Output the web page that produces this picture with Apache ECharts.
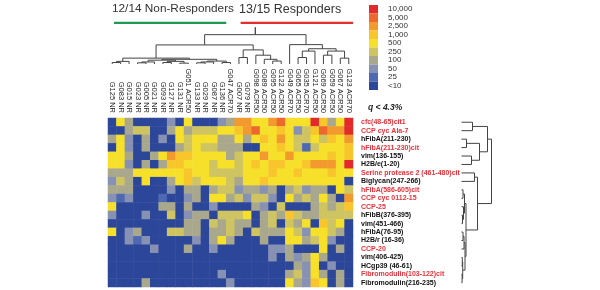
<!DOCTYPE html>
<html>
<head>
<meta charset="utf-8">
<script src="https://cdn.jsdelivr.net/npm/echarts@6/dist/echarts.min.js"></script>
<style>
  html, body { margin: 0; padding: 0; background: #fff; }
  #chart { width: 600px; height: 290px; }
</style>
</head>
<body>
<div id="chart"></div>
<script>
// 列（患者）
var patients = ['G125 NR', 'G083 NR', 'G015 NR', 'G023 NR', 'G005 NR', 'G021 NR', 'G093 NR', 'G127 NR',
  'G131 NR', 'G051 ACR50', 'G133 NR', 'G029 NR', 'G087 NR', 'G136 NR', 'G047 ACR70', 'G007 NR', 'G079 NR',
  'G098 ACR50', 'G089 ACR50', 'G095 ACR50', 'G122 ACR50', 'G049 ACR70', 'G065 ACR50', 'G035 ACR70',
  'G121 ACR50', 'G069 ACR50', 'G059 ACR50', 'G067 ACR50', 'G123 ACR70']

// 行（肽段）
var peptides = ['cfc(48-65)cit1', 'CCP cyc Ala-7', 'hFibA(211-230)', 'hFibA(211-230)cit', 'vim(136-155)',
  'H2B/e(1-20)', 'Serine protease 2 (461-480)cit', 'Biglycan(247-266)', 'hFibA(586-605)cit',
  'CCP cyc 0112-15', 'CCP-25', 'hFibB(376-395)', 'vim(451-466)', 'hFibA(76-95)', 'H2B/r (16-36)',
  'CCP-20', 'vim(406-425)', 'HCgp39 (46-61)', 'Fibromodulin(103-122)cit', 'Fibromodulin(216-235)']
var citrullinated = [true, true, false, true, false, false, true, false, true, true, true, false, false,
  false, false, true, false, false, true, false]

// 色阶
var binLabels = ['<10', '25', '50', '100', '250', '500', '1,000', '2,500', '5,000', '10,000']
var binColors = ['#2c4699', '#4f68b2', '#8791b3', '#a9a88d', '#cfc462', '#f6e02a', '#f8c52c',
  '#f39a2e', '#ee682d', '#e32a2b']

// 每行的色阶等级 (0 = <10 ... 9 = 10,000)
var heat = [
  [0, 5, 3, 0, 0, 0, 0, 2, 0, 5, 0, 0, 0, 2, 3, 7, 7, 5, 5, 7, 8, 5, 5, 5, 9, 6, 3, 5, 9],
  [0, 0, 3, 4, 4, 0, 0, 3, 5, 3, 4, 4, 4, 5, 5, 6, 7, 8, 5, 5, 6, 5, 2, 4, 6, 8, 7, 7, 9],
  [3, 5, 2, 0, 3, 0, 2, 0, 5, 4, 5, 5, 5, 3, 3, 5, 3, 5, 6, 5, 7, 5, 4, 4, 5, 4, 6, 5, 7],
  [0, 5, 2, 0, 3, 0, 0, 0, 3, 4, 5, 4, 4, 3, 3, 3, 0, 0, 5, 5, 6, 5, 4, 1, 4, 5, 5, 5, 6],
  [5, 5, 3, 0, 0, 3, 5, 7, 6, 6, 5, 5, 5, 5, 3, 4, 5, 5, 7, 5, 5, 7, 5, 5, 5, 5, 6, 5, 6],
  [5, 5, 2, 0, 3, 0, 3, 6, 6, 5, 5, 5, 4, 5, 5, 4, 5, 6, 5, 6, 6, 5, 5, 6, 7, 7, 7, 5, 9],
  [3, 3, 3, 5, 5, 5, 5, 5, 5, 6, 5, 5, 4, 4, 4, 4, 5, 5, 5, 6, 5, 5, 6, 5, 5, 5, 6, 5, 5],
  [2, 4, 3, 0, 5, 0, 0, 3, 5, 6, 4, 5, 5, 5, 4, 3, 5, 5, 6, 5, 5, 5, 5, 5, 5, 5, 5, 5, 0],
  [3, 3, 3, 0, 0, 0, 0, 2, 0, 3, 3, 0, 3, 4, 4, 2, 3, 3, 2, 3, 0, 3, 4, 2, 3, 3, 0, 5, 4],
  [2, 1, 2, 0, 0, 0, 1, 0, 0, 2, 3, 0, 5, 5, 3, 4, 2, 4, 4, 2, 0, 5, 3, 4, 3, 5, 3, 0, 7],
  [5, 0, 0, 0, 0, 0, 3, 3, 0, 3, 0, 0, 2, 0, 0, 0, 0, 3, 2, 0, 4, 0, 0, 0, 3, 4, 3, 4, 6],
  [2, 0, 0, 0, 2, 0, 0, 4, 0, 2, 3, 3, 0, 4, 4, 4, 5, 0, 3, 4, 3, 6, 4, 3, 3, 4, 4, 4, 4],
  [0, 0, 0, 0, 0, 0, 0, 0, 0, 3, 3, 0, 4, 3, 4, 3, 3, 0, 3, 4, 0, 4, 3, 5, 0, 6, 4, 5, 0],
  [5, 0, 2, 3, 0, 0, 0, 4, 4, 3, 3, 0, 3, 3, 4, 3, 0, 4, 3, 3, 3, 5, 4, 2, 5, 5, 4, 3, 0],
  [0, 0, 2, 1, 2, 0, 0, 0, 0, 0, 2, 0, 3, 5, 3, 0, 0, 0, 3, 0, 0, 5, 5, 3, 4, 5, 2, 0, 0],
  [0, 0, 0, 0, 0, 2, 0, 0, 0, 3, 0, 0, 2, 0, 0, 0, 0, 0, 0, 2, 2, 3, 0, 0, 0, 5, 0, 3, 0],
  [0, 0, 0, 0, 0, 0, 0, 0, 0, 0, 0, 0, 0, 0, 0, 0, 0, 0, 0, 2, 0, 3, 2, 3, 5, 3, 0, 0, 0],
  [0, 0, 0, 0, 0, 0, 0, 0, 0, 0, 0, 0, 0, 0, 0, 0, 0, 0, 0, 0, 0, 0, 3, 2, 5, 0, 2, 0, 0],
  [0, 0, 0, 0, 0, 0, 0, 0, 0, 0, 0, 0, 0, 2, 0, 0, 0, 0, 0, 0, 0, 3, 4, 2, 5, 3, 0, 3, 0],
  [0, 0, 0, 0, 3, 0, 0, 0, 0, 0, 0, 0, 0, 0, 2, 0, 0, 0, 0, 0, 0, 5, 3, 2, 6, 5, 0, 3, 0]
]

// 分组条 [起始列, 结束列]
var nonResponders = [0, 13]
var responders = [15, 28]

// 聚类树: n(左, 右, 高度)，叶子为索引
function n(a, b, h) { return { a: a, b: b, h: h } }

var colTree = n(
  n(
    n(
      n(n(0, 1, 0.5), 2, 0.9),
      n(n(n(n(3, 4, 0.4), 5, 0.7), n(n(6, 7, 0.5), n(8, 9, 0.3), 0.9), 1.3),
        n(n(n(10, 11, 0.4), 12, 0.7), n(13, 14, 0.5), 1.0), 1.6), 2.0),
    n(n(15, 16, 2.2), n(17, n(18, n(19, 20, 1.0), 1.6), 3.0), 4.8), 6.5),
  n(21,
    n(n(n(22, 23, 2.2), 24, 4.4), n(n(25, 26, 3.0), n(27, 28, 2.0), 4.4), 5.2), 6.6),
  10)
var colRootTop = 12.5

var rowTree = n(
  n(n(0, 1, 11), n(n(2, 3, 5), n(4, 5, 10), 18), 26),
  n(n(6, 7, 13),
    n(n(n(8, 9, 1.5), n(10, n(11, 12, 1), 2), 3),
      n(n(n(13, 14, 1.5), 15, 2.5), n(n(16, 17, 0.8), n(18, 19, 0.6), 1.2), 3.5), 4.5), 16),
  30)

function flatten(node, out) {
  if (typeof node === 'number') return { p: node, h: 0 }
  var l = flatten(node.a, out)
  var r = flatten(node.b, out)
  out.push([l.p, l.h, r.p, r.h, node.h])
  return { p: (l.p + r.p) / 2, h: node.h }
}

var colLinks = []
var colRoot = flatten(colTree, colLinks)
colLinks.push([colRoot.p, colRoot.h, colRoot.p, colRoot.h, colRootTop])
var rowLinks = []
flatten(rowTree, rowLinks)

var heatData = []
heat.forEach(function (row, r) {
  row.forEach(function (v, c) { heatData.push([c, r, v]) })
})

function dendro(vertical) {
  return function (params, api) {
    var pt = function (p, h) { return vertical ? api.coord([p, h]) : api.coord([h, p]) }
    var pa = api.value(0), ha = api.value(1), pb = api.value(2), hb = api.value(3), hm = api.value(4)
    return {
      type: 'polyline',
      shape: { points: [pt(pa, ha), pt(pa, hm), pt(pb, hm), pt(pb, hb)] },
      style: { stroke: '#444', fill: null, lineWidth: 1 }
    }
  }
}

var font = 'Liberation Sans, Arial, sans-serif'
var myChart = echarts.init(document.getElementById('chart'))

var options = {
  backgroundColor: '#fff',
  animation: false,
  textStyle: { fontFamily: font },
  title: [
    { text: '12/14 Non-Responders', left: 112, top: 3, padding: 0, textStyle: { fontSize: 11.8, fontWeight: 'normal', color: '#333', fontFamily: font } },
    { text: '13/15 Responders', left: 239, top: 3, padding: 0, textStyle: { fontSize: 12.5, fontWeight: 'normal', color: '#333', fontFamily: font } },
    { text: 'q < 4.3%', left: 368, top: 103, padding: 0, textStyle: { fontSize: 8.5, fontWeight: 'bold', fontStyle: 'italic', color: '#222', fontFamily: font } }
  ],
  grid: [
    { left: 108, top: 118, width: 245, height: 169 },   // 热图
    { left: 108, top: 20, width: 245, height: 44 },     // 列聚类
    { left: 461.5, top: 118, width: 31, height: 169 }   // 行聚类
  ],
  xAxis: [
    {
      type: 'category', gridIndex: 0, data: patients, position: 'top',
      axisLine: { show: false }, axisTick: { show: false }, splitLine: { show: false },
      axisLabel: { rotate: 90, fontSize: 7.5, margin: 5, color: '#222', interval: 0, fontFamily: font }
    },
    { type: 'value', gridIndex: 1, min: -0.5, max: 28.5, show: false },
    { type: 'value', gridIndex: 2, min: 0, max: 31, show: false }
  ],
  yAxis: [
    {
      type: 'category', gridIndex: 0, data: peptides, position: 'right', inverse: true,
      axisLine: { show: false }, axisTick: { show: false }, splitLine: { show: false },
      axisLabel: {
        fontSize: 7, fontWeight: 'bold', margin: 8, interval: 0, fontFamily: font,
        color: function (value, index) { return citrullinated[index] ? '#e8323a' : '#111' }
      }
    },
    { type: 'value', gridIndex: 1, min: 0, max: 15, show: false },
    { type: 'value', gridIndex: 2, min: -0.5, max: 19.5, inverse: true, show: false }
  ],
  visualMap: {
    type: 'piecewise',
    dimension: 2,
    seriesIndex: 0,
    orient: 'vertical',
    align: 'left',
    left: 369,
    top: 5,
    padding: 0,
    itemWidth: 9,
    itemHeight: 8.5,
    itemGap: 0,
    itemSymbol: 'rect',
    textGap: 10,
    selectedMode: false,
    textStyle: { fontSize: 8, color: '#333', fontFamily: font },
    pieces: binLabels.map(function (lab, i) { return { value: i, label: lab, color: binColors[i] } })
  },
  series: [
    {
      type: 'heatmap', xAxisIndex: 0, yAxisIndex: 0, data: heatData,
      itemStyle: { borderWidth: 0 }, emphasis: { disabled: true }
    },
    {
      type: 'custom', xAxisIndex: 1, yAxisIndex: 1, data: colLinks, clip: false,
      renderItem: dendro(true)
    },
    {
      type: 'custom', xAxisIndex: 2, yAxisIndex: 2, data: rowLinks, clip: false,
      renderItem: dendro(false)
    },
    {
      type: 'custom', xAxisIndex: 1, yAxisIndex: 1, clip: false,
      data: [nonResponders.concat([0]), responders.concat([1])],
      renderItem: function (params, api) {
        var a = api.coord([api.value(0) + 0.2, 14.4])
        var b = api.coord([api.value(1) + 0.5, 13.6])
        return {
          type: 'rect',
          shape: { x: a[0], y: a[1], width: b[0] - a[0], height: b[1] - a[1] },
          style: { fill: api.value(2) === 0 ? '#1f9a55' : '#e2312c' }
        }
      }
    }
  ]
}

myChart.setOption(options)
</script>
</body>
</html>
